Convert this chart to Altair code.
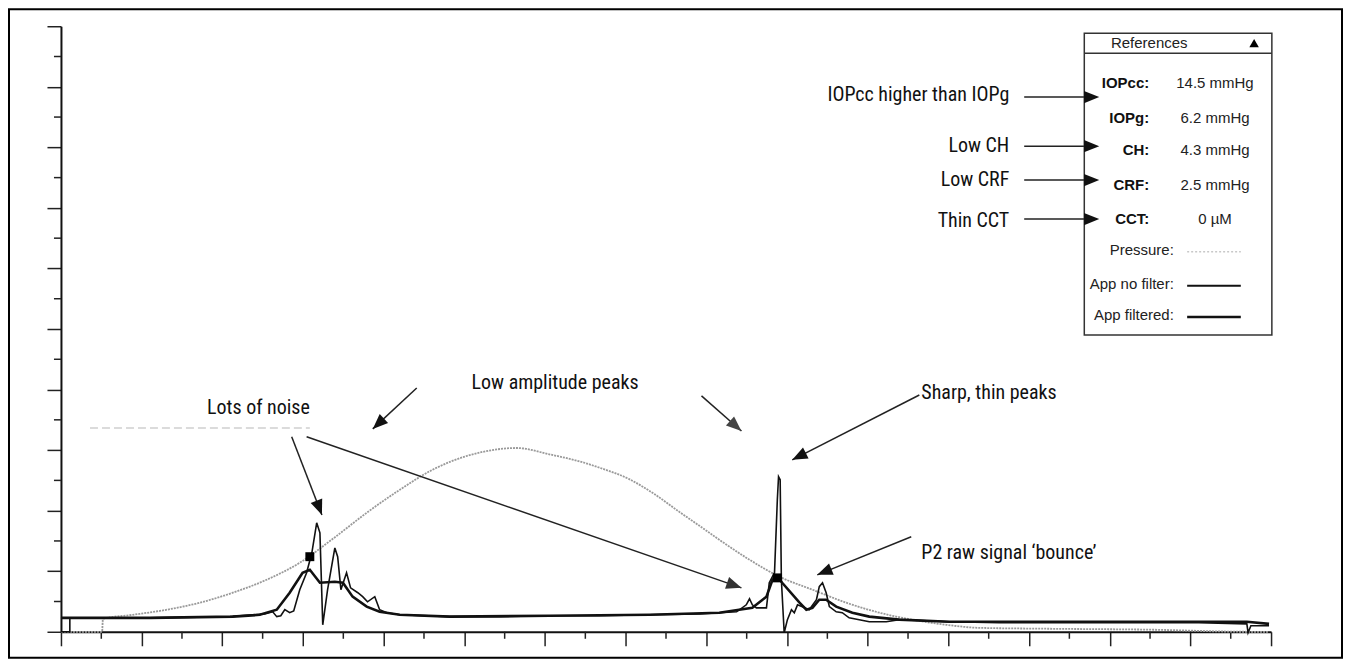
import math
import altair as alt
import pandas as pd

# ORA waveform; x and y are counted in axis tick steps
pressure_x = [0, 1.02, 1.04, 1.78, 2.63, 3.44, 4.26, 5.10, 5.92, 6.74, 7.58, 8.40, 9.21, 9.64,
              10.45, 11.30, 12.11, 12.93, 13.35, 14.09, 14.71, 15.33, 15.83, 16.32, 17.07, 17.81,
              18.63, 19.47, 20.29, 21.10, 21.95, 22.76, 24.50, 26.98, 29.45, 29.95]
pressure_y = [0, 0, 0.43, 0.56, 0.73, 0.96, 1.29, 1.72, 2.28, 3.07, 3.93, 4.69, 5.35, 5.61,
              5.94, 6.07, 5.86, 5.60, 5.42, 5.04, 4.55, 3.96, 3.50, 3.04, 2.38, 1.82,
              1.39, 0.96, 0.63, 0.40, 0.23, 0.13, 0.10, 0.07, 0.0, 0.0]

raw_x = [0, 0.22, 0.22, 2.20, 4.19, 5.05, 5.25, 5.35, 5.45, 5.55, 5.67, 5.77, 5.92, 6.09, 6.22,
         6.34, 6.42, 6.49, 6.61, 6.79, 6.86, 6.94, 7.08, 7.18, 7.36, 7.48, 7.60, 7.78, 7.90, 8.08,
         8.40, 9.64, 10.87, 12.11, 13.35, 14.59, 15.83, 16.32, 16.75, 16.99, 17.07, 17.14, 17.24,
         17.49, 17.56, 17.69, 17.76, 17.79, 17.83, 17.86, 17.93, 18.01, 18.11, 18.18, 18.26, 18.38,
         18.55, 18.73, 18.80, 18.88, 18.97, 19.05, 19.22, 19.37, 19.54, 19.79, 20.04, 20.46, 20.78,
         22.02, 23.26, 25.74, 28.21, 29.40, 29.43, 29.50, 29.95]
raw_y = [0, 0, 0.46, 0.46, 0.50, 0.59, 0.66, 0.50, 0.53, 0.73, 0.63, 0.69, 1.39, 1.95, 2.61,
         3.60, 3.27, 0.23, 1.39, 2.77, 2.48, 1.39, 1.95, 1.45, 1.29, 1.16, 0.99, 1.16, 0.73, 0.63,
         0.56, 0.50, 0.50, 0.53, 0.53, 0.56, 0.59, 0.63, 0.66, 0.89, 1.09, 0.89, 0.79,
         0.79, 1.62, 1.95, 4.36, 5.12, 5.02, 1.72, -0.03, 0.40, 0.73, 0.63, 0.89, 0.83,
         0.73, 1.06, 1.49, 1.62, 1.29, 0.83, 0.66, 0.63, 0.46, 0.40, 0.33, 0.33, 0.40,
         0.33, 0.30, 0.30, 0.30, 0.26, -0.03, 0.20, 0.20]

filt_x = [0, 2.20, 4.26, 4.93, 5.35, 5.67, 5.99, 6.17, 6.42, 6.79, 6.99, 7.23, 7.58, 7.90, 8.40,
          9.64, 12.11, 14.59, 16.32, 17.14, 17.49, 17.64, 17.76, 17.88, 18.31, 18.48, 18.63, 18.80,
          18.97, 19.22, 19.62, 20.04, 20.78, 22.02, 25.74, 29.40, 29.95]
filt_y = [0.46, 0.46, 0.50, 0.56, 0.73, 1.29, 1.95, 2.05, 1.62, 1.65, 1.62, 1.16, 0.83, 0.66, 0.56,
          0.50, 0.53, 0.56, 0.63, 0.79, 1.16, 1.72, 1.82, 1.62, 0.96, 0.73, 0.79, 1.06,
          1.06, 0.83, 0.63, 0.50, 0.40, 0.33, 0.33, 0.33, 0.26]

peak_x = [6.17, 17.76]
peak_y = [2.48, 1.78]

ref_names = ["IOPcc:", "IOPg:", "CH:", "CRF:", "CCT:"]
ref_values = ["14.5 mmHg", "6.2 mmHg", "4.3 mmHg", "2.5 mmHg", "0 µM"]
trace_names = ["Pressure:", "App no filter:", "App filtered:"]

notes_left = ["Low amplitude peaks", "Sharp, thin peaks", "P2 raw signal \u2018bounce\u2019"]
notes_right = ["Lots of noise", "IOPcc higher than IOPg", "Low CH", "Low CRF", "Thin CCT"]

x_major = list(range(0, 31, 2))
x_minor = list(range(1, 30, 2))
y_major = list(range(0, 21, 2))
y_minor = list(range(1, 20, 2))

# ---- layout (tick-step units) ----
W, H = 1211, 606
sx, sy = W / 30, H / 20
left_pos = [(10.18, 8.22), (21.33, 7.89), (21.33, 2.60)]
right_pos = [(6.17, 7.39), (23.51, 17.72), (23.51, 16.04), (23.51, 14.92), (23.51, 13.56)]
arrows = [  # x, y, tip x, tip y, head colour
    (5.72, 6.44, 6.47, 3.86, '#111'),
    (6.09, 6.44, 16.87, 1.45, '#333'),
    (8.82, 8.05, 7.73, 6.70, '#111'),
    (15.88, 7.79, 16.87, 6.63, '#444'),
    (21.28, 7.82, 18.13, 5.68, '#111'),
    (21.08, 3.14, 18.75, 1.88, '#111'),
    (23.88, 17.66, 25.74, 17.66, '#111'),
    (23.88, 16.04, 25.74, 16.04, '#111'),
    (23.88, 14.92, 25.74, 14.92, '#111'),
    (23.88, 13.63, 25.74, 13.63, '#111'),
]
box = (25.37, 30.02, 9.80, 19.77)
header_y = 19.11
ref_rows = [18.12, 16.96, 15.91, 14.75, 13.63]
trace_rows = [12.61, 11.49, 10.46]

narrow = "Roboto Condensed, Noto Sans Condensed, Liberation Sans Narrow, Arial Narrow, Liberation Sans, sans-serif"
sans = "Liberation Sans, Arial, sans-serif"

x_axis = alt.Axis(values=x_major, labels=False, title=None, grid=False,
                  domainColor='#111', domainWidth=2, tickColor='#222', tickWidth=1.5, tickSize=14)
y_axis = alt.Axis(values=y_major, labels=False, title=None, grid=False,
                  domainColor='#111', domainWidth=2, tickColor='#222', tickWidth=1.5, tickSize=14)
xs = alt.Scale(domain=[0, 30], nice=False, zero=False)
ys = alt.Scale(domain=[0, 20], nice=False, zero=False)


def X(f):
    return alt.X(f, type='quantitative', scale=xs, axis=x_axis)


def Y(f):
    return alt.Y(f, type='quantitative', scale=ys, axis=y_axis)


def trace(xv, yv):
    return pd.DataFrame({'x': xv, 'y': yv, 'i': range(len(xv))})


frame = alt.Chart(pd.DataFrame({'a': [0]})).mark_rect(
    fill='white', fillOpacity=0, stroke='black', strokeWidth=2).encode(
    x=alt.value(-52), x2=alt.value(1282), y=alt.value(-17), y2=alt.value(632))

# short in-between ticks on both axes
minor_x = alt.Chart(pd.DataFrame({'v': x_minor})).mark_rule(color='#222', strokeWidth=1.5).encode(
    x=X('v'), y=alt.value(H), y2=alt.value(H + 7))
minor_y = alt.Chart(pd.DataFrame({'v': y_minor})).mark_rule(color='#222', strokeWidth=1.5).encode(
    y=Y('v'), x=alt.value(-7), x2=alt.value(0))

pressure = alt.Chart(trace(pressure_x, pressure_y)).mark_line(
    color='#9a9a9a', strokeWidth=1.8, strokeDash=[2, 1], interpolate='monotone').encode(
    x=X('x'), y=Y('y'), order='i:Q')
filtered = alt.Chart(trace(filt_x, filt_y)).mark_line(
    color='#111', strokeWidth=2.6).encode(x=X('x'), y=Y('y'), order='i:Q')
raw = alt.Chart(trace(raw_x, raw_y)).mark_line(
    color='#111', strokeWidth=1.6).encode(x=X('x'), y=Y('y'), order='i:Q')
peaks = alt.Chart(pd.DataFrame({'x': peak_x, 'y': peak_y})).mark_square(
    size=80, color='black', opacity=1).encode(x=X('x'), y=Y('y'))

# faint edge of the pasted label box under "Lots of noise"
smudge = alt.Chart(pd.DataFrame({'x': [0.72], 'x2': [6.17], 'y': [6.73]})).mark_rule(
    color='#d0d0d0', strokeWidth=1.5, strokeDash=[8, 4]).encode(x=X('x'), x2='x2', y=Y('y'))

arr = pd.DataFrame(arrows, columns=['x', 'y', 'x2', 'y2', 'shade'])
arr['ang'] = [math.degrees(math.atan2((r.x2 - r.x) * sx, (r.y2 - r.y) * sy)) % 360
              for r in arr.itertuples()]
leaders = alt.Chart(arr).mark_rule(color='#222', strokeWidth=1.5).encode(
    x=X('x'), y=Y('y'), x2='x2', y2='y2')
heads = alt.Chart(arr).mark_point(
    shape='M0,0L0.85,2.1L-0.85,2.1Z', filled=True, size=210, opacity=1).encode(
    x=X('x2'), y=Y('y2'), angle=alt.Angle('ang:Q', scale=None),
    color=alt.Color('shade:N', scale=None))

lab_l = pd.DataFrame({'t': notes_left, 'x': [p[0] for p in left_pos], 'y': [p[1] for p in left_pos]})
lab_r = pd.DataFrame({'t': notes_right, 'x': [p[0] for p in right_pos], 'y': [p[1] for p in right_pos]})
text_l = alt.Chart(lab_l).mark_text(align='left', baseline='middle', font=narrow, fontSize=20,
                                    color='#111').encode(x=X('x'), y=Y('y'), text='t:N')
text_r = alt.Chart(lab_r).mark_text(align='right', baseline='middle', font=narrow, fontSize=20,
                                    color='#111').encode(x=X('x'), y=Y('y'), text='t:N')

# References panel
panel = alt.Chart(pd.DataFrame({'x': [box[0]], 'x2': [box[1]], 'y': [box[2]], 'y2': [box[3]]})).mark_rect(
    fill='white', stroke='#333', strokeWidth=1.5).encode(x=X('x'), x2='x2', y=Y('y'), y2='y2')
sep = alt.Chart(pd.DataFrame({'x': [box[0]], 'x2': [box[1]], 'y': [header_y]})).mark_rule(
    color='#333', strokeWidth=1.5).encode(x=X('x'), x2='x2', y=Y('y'))
title = alt.Chart(pd.DataFrame({'t': ['References'], 'x': [26.98], 'y': [19.44]})).mark_text(
    font=sans, fontSize=15, color='#222').encode(x=X('x'), y=Y('y'), text='t:N')
caret = alt.Chart(pd.DataFrame({'x': [29.58], 'y': [19.44]})).mark_point(
    shape='triangle-up', filled=True, size=90, color='black', opacity=1).encode(x=X('x'), y=Y('y'))
names = alt.Chart(pd.DataFrame({'t': ref_names, 'x': 26.98, 'y': ref_rows})).mark_text(
    align='right', font=sans, fontSize=15, fontWeight='bold', color='#111').encode(
    x=X('x'), y=Y('y'), text='t:N')
values = alt.Chart(pd.DataFrame({'t': ref_values, 'x': 28.61, 'y': ref_rows})).mark_text(
    font=sans, fontSize=15, color='#222').encode(x=X('x'), y=Y('y'), text='t:N')
tnames = alt.Chart(pd.DataFrame({'t': trace_names, 'x': 27.59, 'y': trace_rows})).mark_text(
    align='right', font=sans, fontSize=15, color='#222').encode(x=X('x'), y=Y('y'), text='t:N')


def sample(row, **style):
    d = pd.DataFrame({'x': [27.92], 'x2': [29.25], 'y': [trace_rows[row] - 0.06]})
    return alt.Chart(d).mark_rule(**style).encode(x=X('x'), x2='x2', y=Y('y'))


samples = [sample(0, color='#c8c8c8', strokeWidth=1.5, strokeDash=[2, 2]),
           sample(1, color='#111', strokeWidth=2),
           sample(2, color='#111', strokeWidth=2.5)]

chart = alt.layer(
    frame, minor_x, minor_y, pressure, filtered, raw, peaks, smudge, leaders, panel, sep, title,
    caret, names, values, tnames, *samples, heads, text_l, text_r
).properties(
    width=W, height=H,
    autosize=alt.AutoSizeParams(type='none'),
    padding={'left': 53, 'top': 18, 'right': 72, 'bottom': 27},
).configure_view(stroke=None)

chart.save("out.html", embed_options={"renderer": "svg", "actions": False})
